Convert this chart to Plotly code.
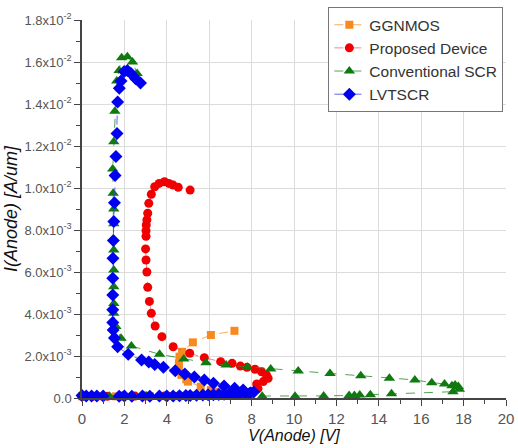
import numpy as np
import plotly.graph_objects as go

# ---- data (current in units of 1e-3 A/um, converted below) ----
gg_v = [0.0, 0.8, 1.6, 2.4, 3.2, 4.0, 4.6, 5.2, 5.8, 6.3, 6.6,
        6.4, 6.08, 5.6, 5.0, 4.92, 4.69, 4.57, 4.57, 4.6, 4.72, 5.23, 6.08, 7.19]
gg_i = [0.08, 0.08, 0.08, 0.09, 0.09, 0.1, 0.1, 0.12, 0.14, 0.17, 0.22,
        0.3, 0.38, 0.54, 0.78, 0.89, 1.1, 1.37, 1.65, 1.97, 2.2, 2.65, 3.0, 3.2]

pr_v = [0.0, 0.5, 1.2, 1.9, 2.5, 3.0, 3.9, 4.3, 5.0, 5.8, 6.5, 7.0, 7.6, 8.0, 8.3,
        8.24, 8.55, 8.78, 8.7, 8.47, 8.16, 7.78, 7.47, 7.08, 6.54, 5.77, 5.08, 4.3,
        3.77, 3.45, 3.27, 3.18, 3.1, 3.06, 3.02, 3.0, 3.02, 3.02, 3.03, 3.06, 3.1,
        3.15, 3.27, 3.43, 3.64, 3.89, 4.1, 4.3, 4.54, 5.1]
pr_i = [0.08, 0.08, 0.08, 0.09, 0.09, 0.09, 0.1, 0.1, 0.1, 0.12, 0.14, 0.16, 0.2, 0.3, 0.45,
        0.67, 0.78, 0.94, 1.1, 1.25, 1.37, 1.46, 1.52, 1.65, 1.73, 1.92, 2.13, 2.44,
        2.92, 3.43, 4.03, 4.6, 5.27, 6.0, 6.57, 7.1, 7.7, 7.97, 8.24, 8.48, 8.8,
        9.27, 9.7, 10.06, 10.22, 10.3, 10.22, 10.14, 10.03, 9.9]

cs_v = [0.0, 1.3, 3.05, 4.5, 6.0, 7.5, 8.5, 10.05, 11.4, 12.6, 12.85, 13.1, 13.6, 14.6,
        17.5, 17.8, 17.75, 17.6, 17.45, 17.1, 16.5, 15.7, 14.5, 13.15, 11.7, 10.2,
        8.9, 7.8, 6.8, 5.85, 4.8, 3.66, 2.33, 1.84, 1.6, 1.5, 1.5, 1.5, 1.5, 1.5,
        1.5, 1.5, 1.47, 1.45, 1.5, 1.55, 1.64, 1.75, 1.87, 2.14, 2.38, 2.6]
cs_i = [0.08, 0.08, 0.08, 0.08, 0.08, 0.08, 0.08, 0.08, 0.1, 0.12, 0.12, 0.14, 0.16, 0.2,
        0.3, 0.42, 0.55, 0.62, 0.58, 0.67, 0.73, 0.86, 0.94, 1.06, 1.17, 1.29,
        1.38, 1.46, 1.57, 1.68, 1.86, 2.08, 2.48, 2.84, 3.4, 4.03, 4.5, 5.3, 6.1, 7.05,
        8.3, 9.0, 9.75, 10.9, 12.2, 13.65, 15.1, 15.6, 16.2, 16.25, 16.0, 15.45]

lv_v = [0.0, 0.2, 0.45, 0.7, 1.0, 1.75, 2.0, 2.35, 2.85, 3.2, 3.65, 4.0, 4.3, 4.6, 4.9,
        5.1, 5.4, 5.7, 5.95, 6.2, 6.45, 6.7, 6.95, 7.2, 7.45, 7.7, 7.95, 8.1,
        7.9, 7.6, 7.2, 6.7, 6.2, 5.77, 5.3, 4.85, 4.4, 3.84, 3.43, 3.15, 2.81, 2.18,
        1.68, 1.53, 1.47, 1.45, 1.45, 1.45, 1.45, 1.46, 1.48, 1.5, 1.53, 1.56, 1.6,
        1.65, 1.68, 1.76, 1.84, 1.99, 2.14, 2.3, 2.53, 2.76]
lv_i = [0.12, 0.1, 0.1, 0.09, 0.1, 0.08, 0.09, 0.08, 0.09, 0.08, 0.1, 0.1, 0.1, 0.11, 0.12,
        0.12, 0.13, 0.14, 0.15, 0.16, 0.17, 0.18, 0.2, 0.2, 0.22, 0.22, 0.24, 0.28,
        0.22, 0.38, 0.46, 0.57, 0.7, 0.86, 1.0, 1.14, 1.3, 1.46, 1.6, 1.71, 1.81, 2.08,
        2.44, 2.86, 3.24, 3.6, 4.2, 4.9, 5.7, 6.65, 7.5, 8.4, 9.3, 10.6, 11.5,
        12.6, 14.1, 14.75, 15.1, 15.55, 15.6, 15.46, 15.2, 15.0]

y_tickvals = [0.0, 0.002, 0.004, 0.006, 0.008, 0.010, 0.012, 0.014, 0.016, 0.018]
y_ticktext = ["0.0", "2.0x10<sup>-3</sup>", "4.0x10<sup>-3</sup>", "6.0x10<sup>-3</sup>",
              "8.0x10<sup>-3</sup>", "1.0x10<sup>-2</sup>", "1.2x10<sup>-2</sup>",
              "1.4x10<sup>-2</sup>", "1.6x10<sup>-2</sup>", "1.8x10<sup>-2</sup>"]
x_tickvals = [0, 2, 4, 6, 8, 10, 12, 14, 16, 18, 20]

series = [
    ("GGNMOS", gg_v, gg_i, "#f7891f", "square", 8, "rgba(247,137,31,0.7)"),
    ("Proposed Device", pr_v, pr_i, "#f00000", "circle", 9, "rgba(240,80,110,0.7)"),
    ("Conventional SCR", cs_v, cs_i, "#0f7a0f", "triangle-up", 10, "rgba(40,140,40,0.8)"),
    ("LVTSCR", lv_v, lv_i, "#0000f0", "diamond", 10, "rgba(60,60,230,0.8)"),
]

fig = go.Figure()
for name, xv, iv, col, sym, size, lcol in series:
    fig.add_trace(go.Scatter(
        x=xv, y=np.array(iv) * 1e-3, name=name, mode="lines+markers",
        line=dict(color=lcol, width=1, dash="dash"),
        marker=dict(color=col, symbol=sym, size=size, line=dict(width=0)),
        cliponaxis=False,
    ))

axis_common = dict(
    showline=True, linecolor="#444", linewidth=1.5,
    ticks="outside", ticklen=6, tickcolor="#444", tickwidth=1.2,
    showgrid=True, gridcolor="#dcdcdc", gridwidth=1, zeroline=False,
    tickfont=dict(family="Arial, Liberation Sans", color="#555"),
    ticklabeloverflow="allow",
)

fig.update_xaxes(**axis_common)
fig.update_yaxes(**axis_common)
fig.update_xaxes(
    range=[0, 20], tickvals=x_tickvals, tickfont_size=15,
    minor=dict(dtick=1, tick0=0, ticks="outside", ticklen=4, tickcolor="#444", showgrid=False),
    title=dict(text="V(Anode) [V]", standoff=4,
               font=dict(family="Arial, Liberation Sans", size=16, style="italic", color="#111")),
)
fig.update_yaxes(
    range=[0, 0.018], tickvals=y_tickvals, ticktext=y_ticktext, tickfont_size=13,
    minor=dict(dtick=0.001, tick0=0, ticks="outside", ticklen=4, tickcolor="#444", showgrid=False),
    title=dict(text="I(Anode) [A/um]", standoff=2,
               font=dict(family="Arial, Liberation Sans", size=18, style="italic", color="#111")),
)

fig.update_layout(
    width=518, height=448,
    margin=dict(l=82, r=4, t=20, b=50),
    plot_bgcolor="white", paper_bgcolor="white",
    showlegend=True,
    legend=dict(x=0.581, y=1.034, xanchor="left", yanchor="top",
                bgcolor="white", bordercolor="#777", borderwidth=1,
                font=dict(family="Arial, Liberation Sans", size=15.5, color="#333"),
                tracegroupgap=0, itemwidth=30),
)

fig.write_html("out.html")
